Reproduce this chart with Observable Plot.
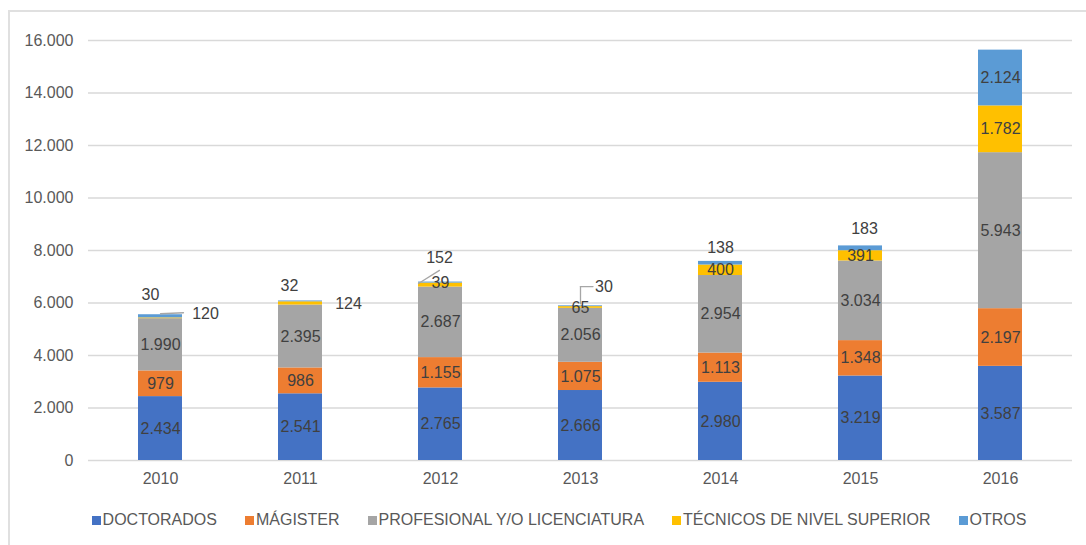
<!DOCTYPE html>
<html>
<head>
<meta charset="utf-8">
<script src="https://cdn.jsdelivr.net/npm/d3@7"></script>
<script src="https://cdn.jsdelivr.net/npm/@observablehq/plot@0.6"></script>
<style>
  body { margin: 0; background: #fff; font-family: "Liberation Sans", Arial, sans-serif; }
  #frame { position: absolute; left: 8px; top: 10px; width: 1110px; height: 600px;
           border: 2px solid #e0e0e0; box-sizing: border-box; }
  #chart { position: absolute; left: 0; top: 0; }
  #legend { position: absolute; left: 8px; top: 511px; width: 1102px; display: flex;
            justify-content: center; gap: 28px; font-size: 16px; color: #595959; line-height: 18px; }
  #legend .item { display: flex; align-items: center; white-space: nowrap; }
  #legend .sw { width: 9px; height: 9px; margin-right: 2px; display: inline-block; }
</style>
</head>
<body>
<div id="frame"></div>
<div id="chart"></div>
<div id="legend"></div>
<script>
// Years on the x axis
const years = ["2010", "2011", "2012", "2013", "2014", "2015", "2016"];

// Series, bottom to top of each stack
const series = ["DOCTORADOS", "MÁGISTER", "PROFESIONAL Y/O LICENCIATURA", "TÉCNICOS DE NIVEL SUPERIOR", "OTROS"];

// Values per series, one per year
const doctorados  = [2434, 2541, 2765, 2666, 2980, 3219, 3587];
const magister    = [979, 986, 1155, 1075, 1113, 1348, 2197];
const profesional = [1990, 2395, 2687, 2056, 2954, 3034, 5943];
const tecnicos    = [30, 124, 152, 65, 400, 391, 1782];
const otros       = [120, 32, 39, 30, 138, 183, 2124];

// Y axis ticks
const yTicks = [0, 2000, 4000, 6000, 8000, 10000, 12000, 14000, 16000];

// Series colours
const colors = ["#4472C4", "#ED7D31", "#A5A5A5", "#FFC000", "#5B9BD5"];

const seriesValues = [doctorados, magister, profesional, tecnicos, otros];
const rows = years.flatMap((year, i) =>
  series.map((s, j) => ({year, series: s, value: seriesValues[j][i]})));
const valueOf = (year, s) => seriesValues[series.indexOf(s)][years.indexOf(year)];
const totals = years.map((year, i) => ({year, total: d3.sum(seriesValues, v => v[i])}));
const totalOf = year => totals.find(t => t.year === year);

const fmt = d3.formatLocale({decimal: ",", thousands: ".", grouping: [3], currency: ["", ""]}).format(",");

// Small segments whose labels sit beside or above the stack
const TEC = series[3], OTR = series[4];
const outside = [
  {year: "2010", series: TEC, dx: -10, dy: -20},
  {year: "2010", series: OTR, dx: 45, dy: -1},
  {year: "2011", series: OTR, dx: -11, dy: -15.5},
  {year: "2011", series: TEC, dx: 48, dy: 2.5},
  {year: "2012", series: TEC, dx: -1, dy: -24.5},
  {year: "2013", series: OTR, dx: 23.5, dy: -18.6},
  {year: "2014", series: OTR, dx: 0, dy: -14},
  {year: "2015", series: OTR, dx: 4, dy: -17}
];
const isOutside = d => outside.some(o => o.year === d.year && o.series === d.series);

// Leader lines from the top of a stack towards a moved label
const leaders = [
  {year: "2010", dx: 0, dy: -1, length: 23, rotate: 87.5},
  {year: "2012", dx: -22, dy: 1.4, length: 24.7, rotate: 58},
  {year: "2013", dx: 0, dy: -2, length: 17.3, rotate: 0},
  {year: "2013", dx: 0, dy: -19.3, length: 12.5, rotate: 90}
];
const line = {draw(ctx, l) { ctx.moveTo(0, 0); ctx.lineTo(0, -l); }};

const labelFill = "#404040";

const chart = Plot.plot({
  width: 1086,
  height: 495,
  marginLeft: 88,
  marginRight: 14,
  marginTop: 40,
  marginBottom: 35,
  style: {fontFamily: "'Liberation Sans', Arial, sans-serif", fontSize: "16px", color: "#595959", background: "transparent"},
  x: {domain: years, paddingInner: 0.687, paddingOuter: 0.345, label: null},
  y: {domain: [0, 16000], label: null},
  color: {domain: series, range: colors},
  marks: [
    Plot.ruleY(yTicks, {stroke: "#d9d9d9", strokeWidth: 1.3}),
    Plot.axisY(yTicks, {tickSize: 0, tickPadding: 15, tickFormat: fmt, fontSize: 16, label: null}),
    Plot.axisX({tickSize: 0, tickPadding: 12, fontSize: 16, label: null}),
    Plot.barY(rows, Plot.stackY({x: "year", y: "value", z: "series", fill: "series", order: series, inset: 0})),
    Plot.text(rows, Plot.stackY({
      x: "year", y: "value", z: "series", order: series,
      text: d => isOutside(d) ? null : fmt(d.value),
      fill: labelFill, fontSize: 16
    })),
    ...outside.map(o => Plot.text([totalOf(o.year)], {
      x: "year", y: "total", text: () => fmt(valueOf(o.year, o.series)),
      dx: o.dx, dy: o.dy, fill: labelFill, fontSize: 16
    })),
    ...leaders.map(l => Plot.vector([totalOf(l.year)], {
      x: "year", y: "total", length: l.length, rotate: l.rotate, anchor: "start",
      shape: line, dx: l.dx, dy: l.dy, stroke: "#a6a6a6", strokeWidth: 1.3
    }))
  ]
});
document.getElementById("chart").append(chart);

// Legend below the chart
const legend = d3.select("#legend");
series.forEach((s, i) => {
  const item = legend.append("div").attr("class", "item");
  item.append("span").attr("class", "sw").style("background", colors[i]);
  item.append("span").text(s);
});
</script>
</body>
</html>
